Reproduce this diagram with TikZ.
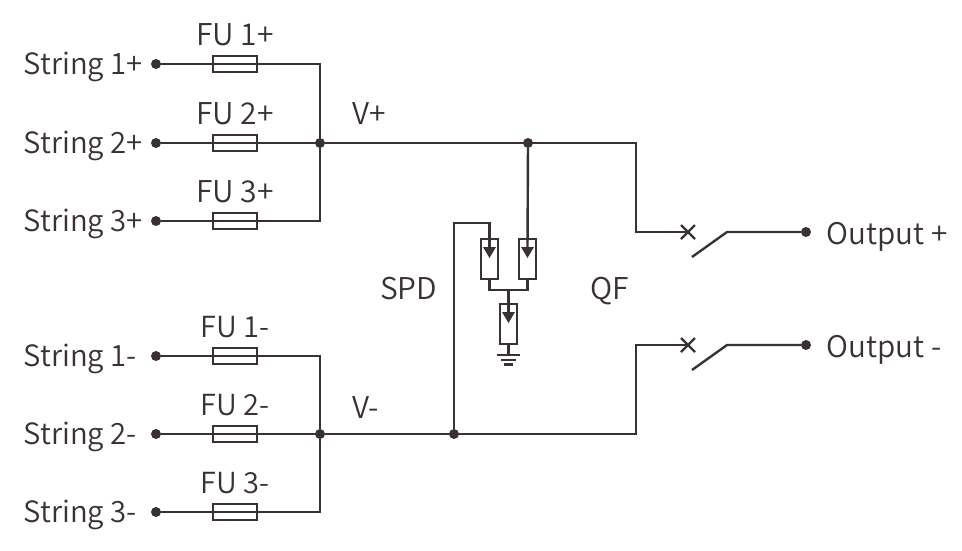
\documentclass[tikz,border=0pt]{standalone}
\usepackage{fontspec}
\setmainfont{Noto Sans CJK SC DemiLight}
\definecolor{ink}{HTML}{3A3132}
\tikzset{
  wire/.style={draw=ink,line width=2.4pt,line join=miter},
  thin wire/.style={draw=ink,line width=2.2pt},
  jdot/.style={circle,fill=ink,inner sep=0pt,minimum size=10pt},
  fuse/.style={rectangle,draw=ink,line width=2.2pt,minimum width=44pt,minimum height=16pt,inner sep=0pt},
  spdbox/.style={rectangle,draw=ink,line width=2.4pt,minimum width=17pt,minimum height=40pt,inner sep=0pt},
  arrowhead/.style={fill=ink,draw=none},
  lbl/.style={text=ink,font=\fontsize{30}{34}\selectfont,inner sep=0pt},
  lblstr/.style={text=ink,font=\fontsize{29.3}{34}\selectfont,inner sep=0pt}
}
\begin{document}
\begin{tikzpicture}[x=1pt,y=-1pt]
\useasboundingbox (0,0) rectangle (962,550);
% junctions and terminals
\node[jdot] (jp) at (320,143) {};
\node[jdot] (jn) at (320,434) {};
\node[jdot] (jspdp) at (528,143) {};
\node[jdot] (jspdn) at (454,434) {};
\coordinate (bustp) at (320,64);
\coordinate (busbp) at (320,221);
\coordinate (bustn) at (320,356);
\coordinate (busbn) at (320,512);
% strings
\foreach \n/\s/\y/\t/\fs in {a1/1+/64/bustp/30,a2/2+/143/jp/30,a3/3+/221/busbp/30,b1/1-/356/bustn/29,b2/2-/434/jn/29,b3/3-/512/busbn/29}{
  \node[jdot] (dot\n) at (156,\y) {};
  \node[lblstr,anchor=base west] (str\n) at (23.5,\y+10.5) {String \s};
  \coordinate (end\n) at (\t);
  \draw[wire] (dot\n) -- (end\n);
  \node[fuse] (fu\n) at (235,\y) {};
  \node[lbl,font=\fontsize{\fs}{34}\selectfont,anchor=base] (fl\n) at (235,\y-19) {FU \s};
}
\draw[wire] (bustp) -- (jp) -- (busbp);
\draw[wire] (bustn) -- (jn) -- (busbn);
\fill[ink] (318.8,62.8) rectangle (321.2,65.2);
\fill[ink] (318.8,219.8) rectangle (321.2,222.2);
\fill[ink] (318.8,354.8) rectangle (321.2,357.2);
\fill[ink] (318.8,510.8) rectangle (321.2,513.2);
% buses to breakers
\coordinate (qp) at (688,232);
\coordinate (qn) at (688,345);
\coordinate (qpc) at (636,232);
\coordinate (qnc) at (636,345);
\coordinate (bpt) at (636,143);
\coordinate (bnb) at (636,434);
\draw[wire] (jp) -- (bpt) -- (qpc) -- (qp);
\draw[wire] (jn) -- (bnb) -- (qnc) -- (qn);
% breakers
\foreach \q/\y in {qp/232,qn/345}{
  \draw[thin wire] (\q)++(-7,-7) -- ++(14,14);
  \draw[thin wire] (\q)++(-7,7) -- ++(14,-14);
  \node[jdot] (out\q) at (806,\y) {};
  \coordinate (hinge\q) at (727,\y);
  \coordinate (blade\q) at (692,\y+25);
  \draw[wire] (blade\q) -- (hinge\q) -- (out\q);
}
% SPD
\node[spdbox] (s1) at (489.5,259) {};
\node[spdbox] (s2) at (527.5,259) {};
\node[spdbox] (s3) at (508.5,324) {};
\coordinate (top) at (454,223);
\coordinate (topr) at (489.5,223);
\coordinate (ym) at (508.5,290);
\coordinate (ym1) at (489.5,290);
\coordinate (ym2) at (527.5,290);
\coordinate (gnd) at (508.5,355);
\draw[wire] (jspdn) -- (top) -- (topr) -- (489.5,250);
\draw[wire] (jspdp) -- (527.5,250);
\draw[wire] (s1.south) -- (ym1) -- (ym2) -- (s2.south);
\draw[wire] (ym) -- (508.5,315);
\draw[wire] (s3.south) -- (gnd);
\foreach \x/\y in {489.5/247,527.5/247,508.5/312}{
  \fill[arrowhead] (\x-6.5,\y) -- (\x+6.5,\y) -- (\x,\y+11) -- cycle;
}
\draw[thin wire] (497,355) -- (520,355);
\draw[thin wire] (501,360) -- (516,360);
\draw[thin wire] (504,364.5) -- (513,364.5);
% labels
\node[lbl,anchor=base] (vp) at (369.5,124) {V+};
\node[lbl,anchor=base] (vn) at (365.5,418) {V-};
\node[lbl,anchor=base] (spd) at (408.5,299) {SPD};
\node[lbl,anchor=base] (qf) at (609.5,299) {QF};
\node[lbl,font=\fontsize{29.7}{34}\selectfont,anchor=base west] (op) at (826.5,244) {Output +};
\node[lbl,font=\fontsize{29.7}{34}\selectfont,anchor=base west] (on) at (826.5,357) {Output -};
\end{tikzpicture}
\end{document}
